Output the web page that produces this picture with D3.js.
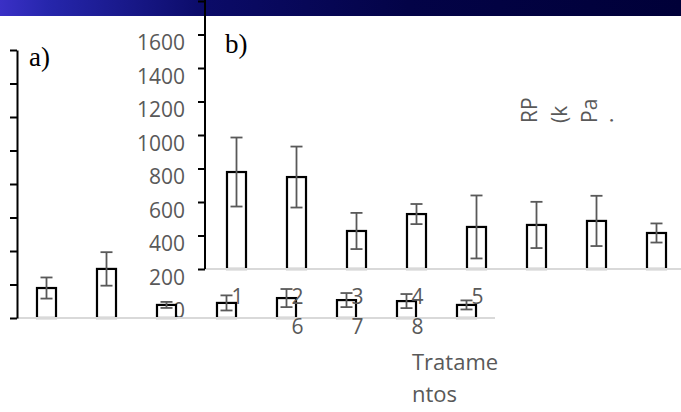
<!DOCTYPE html>
<html lang="en">

<head>
    <meta charset="UTF-8">
    <script src="https://d3js.org/d3.v7.min.js"></script>
    <style>
        body { margin: 0; background: #fff; }
        svg { display: block; }
    </style>
</head>

<body>

    <script>

        // Data
        const treatments = ["1", "2", "3", "4", "5", "6", "7", "8"];
        const yTicks = [0, 200, 400, 600, 800, 1000, 1200, 1400, 1600];

        // panel a)
        const meanA = [179, 293, 78, 90, 119, 107, 101, 78];
        const errA = [63, 100, 18, 45, 54, 42, 42, 27];

        // panel b)
        const meanB = [579, 549, 227, 328, 251, 263, 287, 215];
        const errB = [206, 182, 108, 60, 188, 138, 150, 57];

        const W = 681, H = 412;
        const font = "'Open Sans', 'Noto Sans', sans-serif";
        const grey = "#595959";

        const svg = d3.select("body").append("svg")
            .attr("width", W)
            .attr("height", H);

        // top band of the slide
        const grad = svg.append("defs").append("linearGradient")
            .attr("id", "band")
            .attr("x1", "0%").attr("x2", "100%");
        [[0, "#3a30c6"], [0.07, "#2626ac"], [0.3, "#0b0b68"], [0.6, "#030347"], [1, "#000038"]]
            .forEach(s => grad.append("stop").attr("offset", s[0]).attr("stop-color", s[1]));

        svg.append("rect")
            .attr("width", W)
            .attr("height", 16)
            .attr("fill", "url(#band)");

        // Scales
        const xA = d3.scaleBand().domain(treatments).range([16.5, 496.5])
            .paddingInner(0.683).paddingOuter(0.3415);
        const yA = d3.scaleLinear().domain([0, 1600]).range([318, 50]);

        const xB = d3.scaleBand().domain(treatments).range([206.5, 686.5])
            .paddingInner(0.683).paddingOuter(0.3415);
        const yB = d3.scaleLinear().domain([0, 1600]).range([269, 1]);

        // y tick labels (text layer sits lower than the ticks)
        const yLabels = svg.append("g")
            .attr("transform", "translate(205, 42)")
            .call(d3.axisLeft(yB).tickValues(yTicks).tickSize(0).tickPadding(20).tickFormat(d3.format("d")));
        yLabels.select(".domain").remove();
        yLabels.selectAll("text")
            .attr("fill", grey)
            .style("font-family", font)
            .style("font-size", "21px");

        // bars + error bars
        function drawBars(g, x, y, mean, err) {
            g.selectAll("rect")
                .data(treatments)
                .enter().append("rect")
                .attr("x", d => x(d))
                .attr("y", (d, i) => y(mean[i]))
                .attr("width", x.bandwidth())
                .attr("height", (d, i) => y(0) - y(mean[i]))
                .attr("fill", "#fff")
                .attr("stroke", "#000")
                .attr("stroke-width", 2.2);

            const eb = g.selectAll(".err")
                .data(treatments)
                .enter().append("g")
                .attr("class", "err")
                .attr("stroke", grey)
                .attr("stroke-width", 1.8);
            const cx = d => x(d) + x.bandwidth() / 2;
            eb.append("line")
                .attr("x1", cx).attr("x2", cx)
                .attr("y1", (d, i) => y(mean[i] + err[i]))
                .attr("y2", (d, i) => y(mean[i] - err[i]));
            eb.append("line")
                .attr("x1", d => cx(d) - 6).attr("x2", d => cx(d) + 6)
                .attr("y1", (d, i) => y(mean[i] + err[i]))
                .attr("y2", (d, i) => y(mean[i] + err[i]));
            eb.append("line")
                .attr("x1", d => cx(d) - 6).attr("x2", d => cx(d) + 6)
                .attr("y1", (d, i) => y(mean[i] - err[i]))
                .attr("y2", (d, i) => y(mean[i] - err[i]));
        }

        // panel a)
        const gA = svg.append("g");
        drawBars(gA, xA, yA, meanA, errA);
        gA.append("line")
            .attr("x1", 17).attr("x2", 495)
            .attr("y1", yA(0)).attr("y2", yA(0))
            .attr("stroke", "#d9d9d9").attr("stroke-width", 2);
        const axA = gA.append("g")
            .attr("transform", "translate(17,0)")
            .call(d3.axisLeft(yA).tickValues(yTicks).tickSize(7).tickSizeOuter(0).tickFormat(""));
        axA.selectAll("line, path").attr("stroke", "#000").attr("stroke-width", 2);

        // panel b)
        const gB = svg.append("g");
        drawBars(gB, xB, yB, meanB, errB);
        gB.append("line")
            .attr("x1", 205).attr("x2", W)
            .attr("y1", yB(0)).attr("y2", yB(0))
            .attr("stroke", "#d9d9d9").attr("stroke-width", 2);
        const axB = gB.append("g")
            .attr("transform", "translate(205,0)")
            .call(d3.axisLeft(yB).tickValues(yTicks).tickSize(7).tickSizeOuter(0).tickFormat(""));
        axB.select(".domain").attr("d", "M0,269V0");
        axB.selectAll("line, path").attr("stroke", "#000").attr("stroke-width", 2);

        // category labels, wrapped in two rows
        svg.append("g").selectAll("text")
            .data(treatments)
            .enter().append("text")
            .attr("x", (d, i) => xB(treatments[i < 5 ? i : i - 4]) + xB.bandwidth() / 2 + 1)
            .attr("y", (d, i) => i < 5 ? 304 : 334)
            .attr("text-anchor", "middle")
            .attr("fill", grey)
            .style("font-family", font)
            .style("font-size", "21px")
            .text(d => d);

        // axis titles (wrapped text boxes)
        svg.append("g").selectAll("text")
            .data(["Tratame", "ntos"])
            .enter().append("text")
            .attr("x", 412)
            .attr("y", (d, i) => 370 + i * 32)
            .attr("fill", grey)
            .style("font-family", font)
            .style("font-size", "22px")
            .text(d => d);

        svg.append("g").selectAll("text")
            .data(["RP", "(k", "Pa", "."])
            .enter().append("text")
            .attr("transform", (d, i) => `translate(${537 + i * 30 - (i === 3 ? 14 : 0)},123) rotate(-90)`)
            .attr("fill", grey)
            .style("font-family", font)
            .style("font-size", "21px")
            .text(d => d);

        // panel letters
        svg.append("text")
            .attr("x", 29).attr("y", 66)
            .style("font-family", "'Liberation Serif', serif")
            .style("font-size", "27px")
            .text("a)");
        svg.append("text")
            .attr("x", 225).attr("y", 53)
            .style("font-family", "'Liberation Serif', serif")
            .style("font-size", "27px")
            .text("b)");

    </script>
</body>

</html>
